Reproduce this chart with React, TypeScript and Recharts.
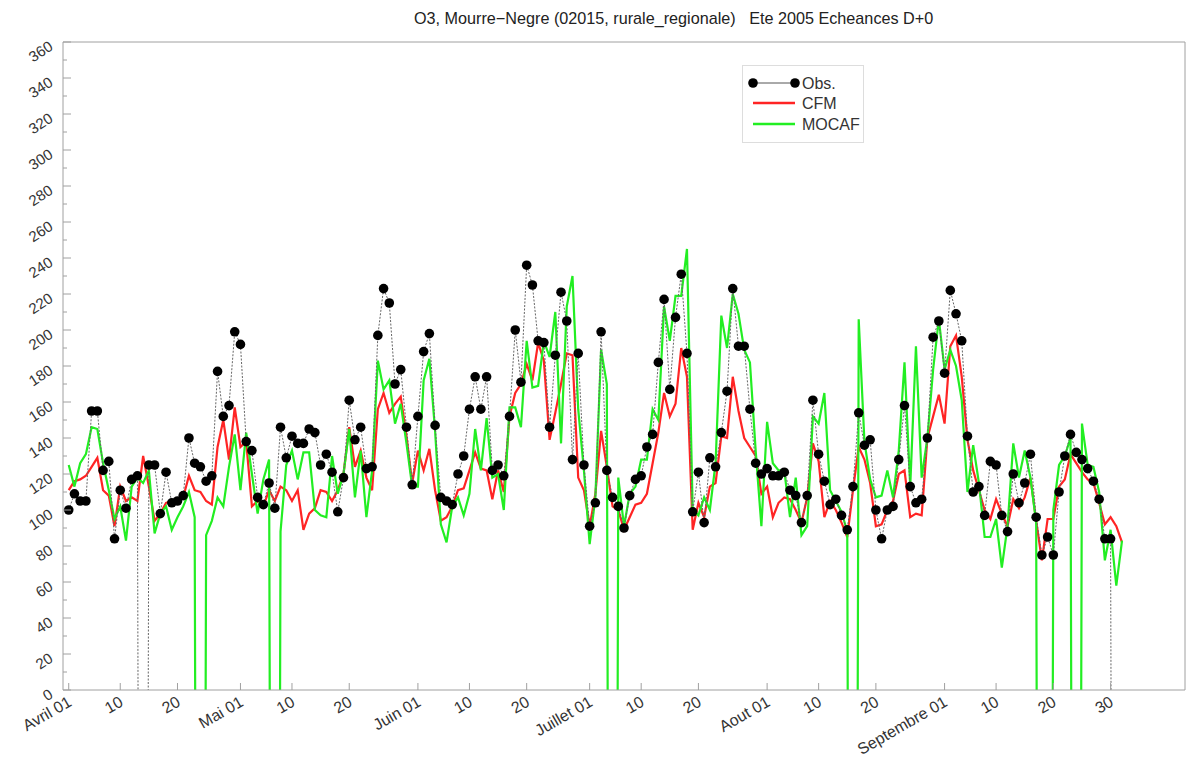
import React from "react";
import { LineChart, Line, XAxis, YAxis, ReferenceLine, Legend } from "recharts";

// missing days are stored as a large negative value, like the original plot,
// so the line drops out of the frame and gets clipped
const M = -999;

// daily O3 values, 1 April (index 0) to 2 October (index 184)
const obs = [
  100, 109, 105, 105, 155, 155, 122, 127, 84, 111,
  101, 117, 119, M, 125, 125, 98, 121, 104, 105,
  108, 140, 126, 124, 116, 119, 177, 152, 158, 199,
  192, 138, 133, 107, 103, 115, 101, 146, 129, 141,
  137, 137, 145, 143, 125, 131, 121, 99, 118, 161,
  139, 146, 123, 124, 197, 223, 215, 170, 178, 146,
  114, 152, 188, 198, 147, 107, 105, 103, 120, 130,
  156, 174, 156, 174, 122, 125, 119, 152, 200, 171,
  236, 225, 194, 193, 146, 186, 221, 205, 128, 187,
  125, 91, 104, 199, 122, 107, 102, 90, 108, 117,
  119, 135, 142, 182, 217, 167, 207, 231, 187, 99,
  121, 93, 129, 124, 143, 166, 223, 191, 191, 156,
  126, 120, 123, 119, 119, 121, 111, 108, 93, 108,
  161, 131, 116, 103, 106, 97, 89, 113, 154, 136,
  139, 100, 84, 100, 102, 128, 158, 113, 104, 106,
  140, 196, 205, 176, 222, 209, 194, 141, 110, 113,
  97, 127, 125, 97, 88, 120, 104, 115, 131, 96,
  75, 85, 75, 110, 130, 142, 132, 128, 123, 116,
  106, 84, 84, M, M,
];

const cfm = [
  111, 116, 117, 119, 124, 129, 111, 108, 91, 113,
  105, 107, 105, 130, 113, 94, 98, 104, 105, 106,
  107, 119, 111, 110, 105, 103, 135, 150, 128, 157,
  135, 138, 102, 105, 102, 111, 105, 113, 111, 105,
  111, 89, 98, 101, 111, 110, 105, 111, 120, 146,
  124, 133, 118, 111, 156, 165, 154, 159, 163, 141,
  115, 133, 122, 134, 111, 94, 96, 102, 111, 112,
  122, 132, 123, 122, 106, 122, 110, 152, 165, 170,
  181, 172, 193, 183, 139, 154, 170, 187, 186, 118,
  111, 91, 109, 144, 124, 102, 100, 89, 96, 103,
  104, 109, 126, 143, 165, 152, 159, 190, 174, 89,
  104, 96, 113, 115, 141, 140, 174, 155, 140, 135,
  130, 109, 113, 96, 104, 107, 106, 100, 93, 107,
  137, 127, 96, 105, 100, 93, 85, 111, 135, 128,
  115, 91, 92, 100, 105, 120, 122, 96, 98, 97,
  140, 152, 164, 148, 191, 197, 174, 139, 122, 111,
  100, 95, 106, 98, 91, 106, 101, 107, 118, 94,
  72, 95, 95, 113, 117, 131, 126, 121, 117, 115,
  104, 92, 96, 91, 82,
];

const mocaf = [
  125, 113, 126, 131, 146, 145, 126, 111, 95, 102,
  83, 113, 118, 115, 122, 87, 98, 102, 89, 96,
  102, 110, 96, M, 86, 94, 107, 102, 124, 142,
  111, 143, 120, 98, 117, 128, M, 88, 125, 133,
  117, 132, 132, 100, 97, 96, 130, 109, 120, 145,
  107, 133, 96, 122, 183, 167, 172, 148, 159, 137,
  113, 113, 172, 184, 144, 92, 82, 102, 107, 97,
  109, 145, 122, 151, 118, 120, 100, 157, 157, 146,
  194, 168, 169, 194, 185, 210, 137, 213, 230, 156,
  122, 81, 107, 189, 170, M, 118, 91, 109, 113,
  128, 128, 156, 150, 213, 194, 219, 219, 245, 100,
  97, 107, 100, 126, 208, 190, 220, 209, 189, 182,
  133, 91, 149, 126, 122, 122, 96, 118, 86, 91,
  152, 148, 165, 111, 105, 99, 88, M, 206, 138,
  117, 107, 108, 122, 107, 133, 182, 113, 191, 118,
  140, 178, 206, 178, 189, 180, 161, 110, 136, 115,
  85, 85, 95, 68, 91, 137, 118, 133, 118, 93,
  M, M, 100, 125, 130, 140, M, 148, 125, 124,
  110, 72, 89, 58, 83,
];

const xTicks = [0, 9, 19, 30, 39, 49, 61, 70, 80, 91, 100, 110, 122, 131, 141, 153, 162, 172, 182];
const xTickLabels = [
  "Avril 01", "10", "20", "Mai 01", "10", "20", "Juin 01", "10", "20",
  "Juillet 01", "10", "20", "Aout 01", "10", "20", "Septembre 01", "10", "20", "30",
];
const yTicks = [
  0, 10, 20, 30, 40, 50, 60, 70, 80, 90, 100, 110, 120, 130, 140, 150, 160, 170, 180,
  190, 200, 210, 220, 230, 240, 250, 260, 270, 280, 290, 300, 310, 320, 330, 340, 350, 360,
];

const data = cfm.map((v, i) => ({ day: i, obs: obs[i], cfm: v, mocaf: mocaf[i] }));

const FONT = '"Liberation Sans", Arial, Helvetica, sans-serif';
const PLOT_LEFT = 63;
const PLOT_BOTTOM = 690;
const AXIS = "#a0a0a0";
const RED = "#ff2424";
const GREEN = "#22ee22";

function XTick(props: any) {
  const { x, payload } = props;
  const label = xTickLabels[xTicks.indexOf(payload.value)] ?? "";
  const tx = x + 4;
  const ty = PLOT_BOTTOM + 15;
  return (
    <g>
      <line x1={x} x2={x} y1={PLOT_BOTTOM} y2={PLOT_BOTTOM - 7} stroke={AXIS} />
      <text
        x={tx}
        y={ty}
        textAnchor="end"
        fontSize={16}
        fill="#333"
        fontFamily={FONT}
        transform={`rotate(-30 ${tx} ${ty})`}
      >
        {label}
      </text>
    </g>
  );
}

function YTick(props: any) {
  const { y, payload } = props;
  const v = payload.value;
  const major = v % 20 === 0;
  const tx = PLOT_LEFT - 9;
  const ty = y + 7;
  return (
    <g>
      <line x1={PLOT_LEFT} x2={PLOT_LEFT + (major ? 8 : 4)} y1={y} y2={y} stroke={AXIS} />
      {major && (
        <text
          x={tx}
          y={ty}
          textAnchor="end"
          fontSize={15}
          fill="#333"
          fontFamily={FONT}
          transform={`rotate(-33 ${tx} ${ty})`}
        >
          {v}
        </text>
      )}
    </g>
  );
}

function ObsDot(props: any) {
  const { cx, cy, value, index } = props;
  if (value == null || value < 0) return <g key={`d-${index}`} />;
  return <circle key={`d-${index}`} cx={cx} cy={cy} r={4.8} fill="#000" />;
}

function LegendBox() {
  return (
    <svg width={122} height={78} style={{ display: "block" }}>
      <rect x={0.5} y={0.5} width={121} height={77} fill="#fff" stroke="#ddd" />
      <line x1={11} x2={53} y1={18} y2={18} stroke="#555" />
      <circle cx={11} cy={18} r={4.8} fill="#000" />
      <circle cx={53} cy={18} r={4.8} fill="#000" />
      <line x1={11} x2={53} y1={38} y2={38} stroke={RED} strokeWidth={2.5} />
      <line x1={11} x2={53} y1={59} y2={59} stroke={GREEN} strokeWidth={2.5} />
      <g fontFamily={FONT} fontSize={16} fill="#333">
        <text x={60} y={24}>Obs.</text>
        <text x={60} y={44}>CFM</text>
        <text x={60} y={65}>MOCAF</text>
      </g>
    </svg>
  );
}

export default function App() {
  return (
    <div style={{ position: "absolute", left: 0, top: 0, width: 1196, height: 765, background: "#fff" }}>
      <div
        style={{
          position: "absolute",
          left: 414,
          top: 9,
          fontFamily: FONT,
          fontSize: 16.2,
          color: "#222",
          whiteSpace: "pre",
        }}
      >
        {"O3, Mourre\u2212Negre (02015, rurale_regionale)   Ete 2005 Echeances D+0"}
      </div>
      <LineChart
        width={1196}
        height={765}
        data={data}
        margin={{ top: 42, right: 11, bottom: 74, left: 62 }}
      >
        <XAxis
          dataKey="day"
          type="number"
          domain={[-1, 195]}
          ticks={xTicks}
          interval={0}
          height={1}
          tick={<XTick />}
          tickLine={false}
          axisLine={{ stroke: AXIS }}
        />
        <YAxis
          type="number"
          domain={[0, 360]}
          ticks={yTicks}
          interval={0}
          allowDataOverflow
          width={1}
          tick={<YTick />}
          tickLine={false}
          axisLine={{ stroke: AXIS }}
        />
        <ReferenceLine y={360} stroke={AXIS} />
        <ReferenceLine x={195} stroke={AXIS} />
        <Line
          dataKey="cfm"
          type="linear"
          stroke={RED}
          strokeWidth={2.2}
          dot={false}
          isAnimationActive={false}
        />
        <Line
          dataKey="mocaf"
          type="linear"
          stroke={GREEN}
          strokeWidth={2.2}
          dot={false}
          isAnimationActive={false}
        />
        <Line
          dataKey="obs"
          type="linear"
          stroke="#666"
          strokeWidth={1}
          strokeDasharray="2 1.5"
          dot={<ObsDot />}
          isAnimationActive={false}
        />
        <Legend
          layout="vertical"
          align="center"
          verticalAlign="middle"
          content={() => <LegendBox />}
          wrapperStyle={{ left: 742, top: 65, width: 122, height: 78 }}
        />
      </LineChart>
    </div>
  );
}
